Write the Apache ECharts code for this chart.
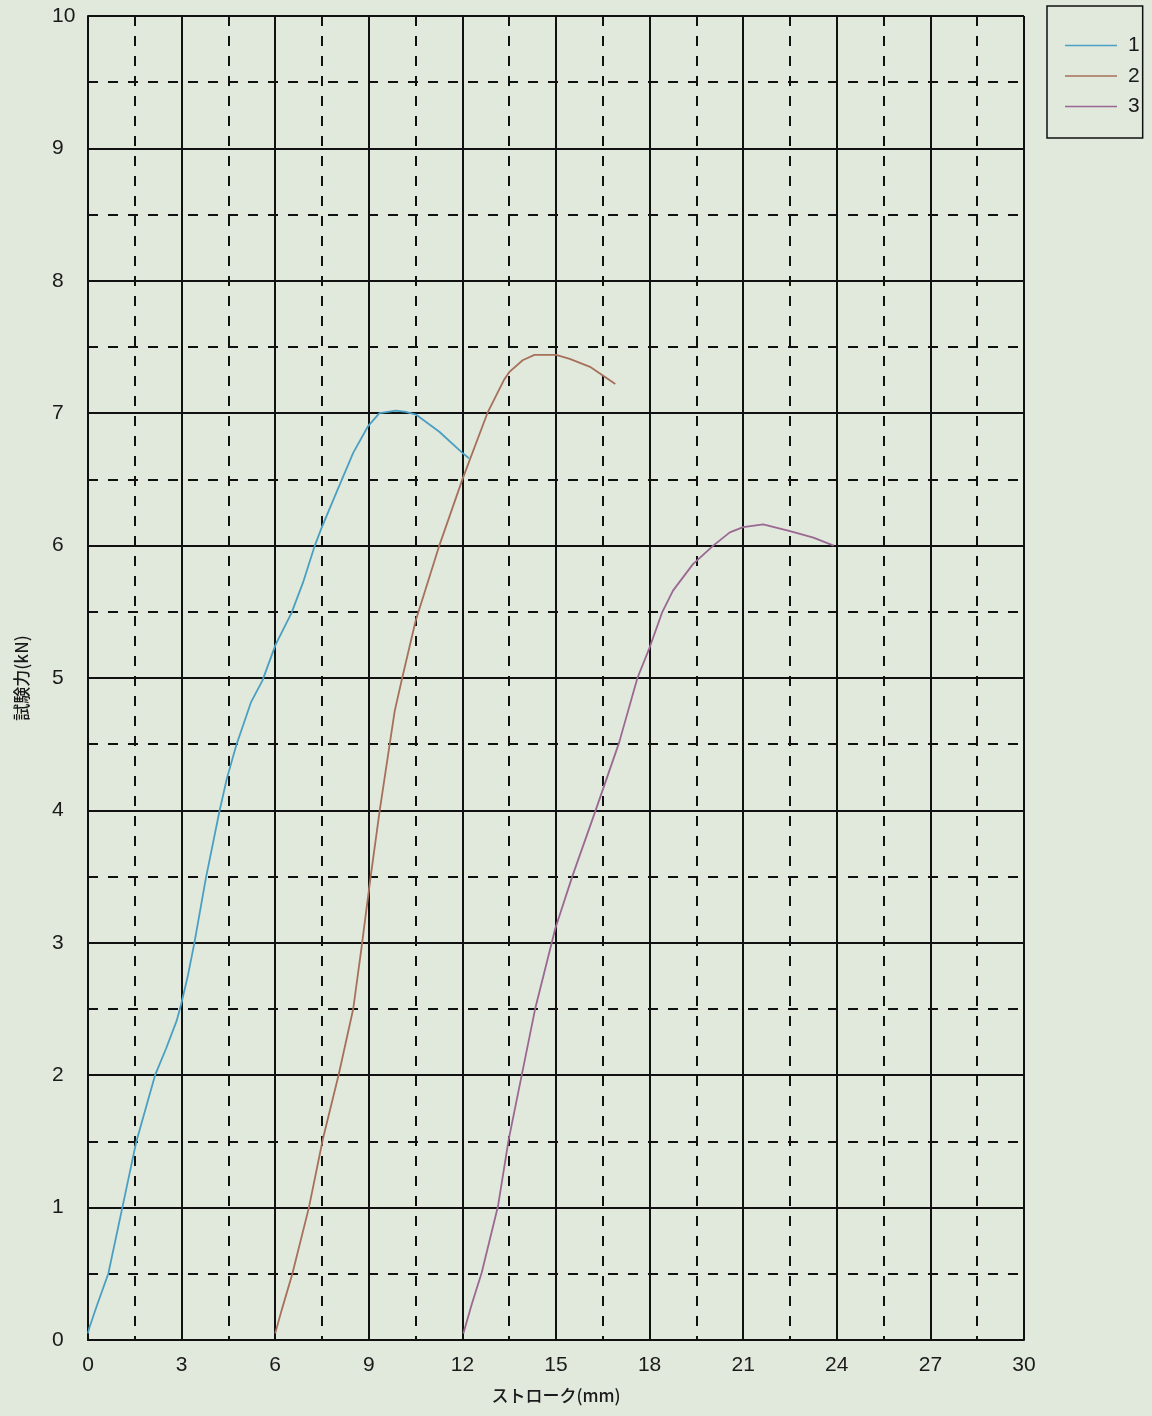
<!DOCTYPE html>
<html>
<head>
<meta charset="utf-8">
<script src="https://cdn.jsdelivr.net/npm/echarts@6/dist/echarts.min.js"></script>
<style>
html,body{margin:0;padding:0;background:#e1e8dc;}
#chart{width:1152px;height:1416px;}
</style>
</head>
<body>
<div id="chart"></div>
<script>
const seriesNames = ['1', '2', '3'];
const xTicks = [0, 3, 6, 9, 12, 15, 18, 21, 24, 27, 30];
const yTicks = [0, 1, 2, 3, 4, 5, 6, 7, 8, 9, 10];

const curve1 = [[0,0.05],[0.04,0.09],[0.3,0.27],[0.65,0.5],[1.1,1.0],[1.55,1.5],[2.15,2.0],[2.5,2.2],[2.84,2.41],[2.98,2.53],[3.2,2.75],[3.41,3.0],[3.78,3.49],[4.21,3.99],[4.45,4.24],[4.75,4.49],[5.23,4.82],[5.59,4.98],[6.01,5.25],[6.52,5.49],[6.89,5.72],[7.27,6.0],[7.48,6.13],[7.96,6.4],[8.5,6.7],[8.97,6.9],[9.34,7.0],[9.87,7.02],[10.19,7.01],[10.51,6.99],[11.26,6.86],[12.0,6.7],[12.21,6.66]];
const curve2 = [[6,0.05],[6.2,0.22],[6.55,0.5],[7.08,1.0],[7.53,1.52],[8.03,2.0],[8.5,2.5],[8.77,2.97],[8.95,3.3],[9.06,3.5],[9.35,4.0],[9.67,4.5],[9.83,4.75],[10.07,5.0],[10.5,5.43],[11.26,6.0],[12.0,6.5],[12.8,7.0],[13.33,7.25],[13.5,7.31],[13.93,7.4],[14.31,7.44],[15.0,7.44],[15.44,7.41],[16.09,7.35],[16.9,7.22]];
const curve3 = [[12.03,0.05],[12.3,0.27],[12.62,0.51],[13.14,1.01],[13.48,1.51],[13.91,2.01],[14.34,2.51],[14.98,3.11],[15.52,3.5],[16.27,4.0],[17.02,4.51],[17.61,5.0],[18.0,5.23],[18.41,5.5],[18.75,5.66],[19.39,5.86],[20.04,6.0],[20.57,6.1],[21.0,6.14],[21.64,6.16],[22.5,6.11],[23.25,6.06],[23.9,6.0]];

const colors = ['#4aa0c2', '#a6705a', '#9a6892'];
const curves = [curve1, curve2, curve3];

const chart = echarts.init(document.getElementById('chart'));
const font = 'Liberation Sans, Arial, sans-serif';
const jp = '"Noto Sans CJK JP", sans-serif';

chart.setOption({
  backgroundColor: '#e1e8dc',
  animation: false,
  grid: { left: 88, right: 128, top: 16, bottom: 76, containLabel: false },
  legend: {
    data: seriesNames,
    orient: 'vertical',
    left: 1047, top: 6,
    icon: 'rect',
    itemWidth: 52, itemHeight: 1.5,
    itemGap: 9.5,
    padding: [29, 3, 21, 18],
    borderColor: '#111', borderWidth: 1.5,
    textStyle: { fontFamily: font, fontSize: 21, color: '#1a1a1a', lineHeight: 20, padding: [0,0,0,6] }
  },
  xAxis: {
    type: 'value', min: 0, max: 30, interval: 3,
    name: 'ストローク(mm)', nameLocation: 'middle', nameGap: 47,
    nameTextStyle: { fontFamily: jp, fontSize: 17, color: '#1a1a1a', fontWeight: 500 },
    axisLine: { show: true, lineStyle: { color: '#111', width: 2 } },
    axisTick: { show: false },
    axisLabel: { fontFamily: font, fontSize: 21, color: '#1a1a1a', margin: 15,
      formatter: v => xTicks.includes(v) ? String(v) : '' },
    splitLine: { show: true, lineStyle: { color: '#111', width: 2 } },
    minorTick: { show: false, splitNumber: 2 },
    minorSplitLine: { show: true, lineStyle: { color: '#111', width: 2, type: [10, 10] } }
  },
  yAxis: {
    type: 'value', min: 0, max: 10, interval: 1,
    name: '試験力(kN)', nameLocation: 'middle', nameGap: 58, nameRotate: 90,
    nameTextStyle: { fontFamily: jp, fontSize: 17, color: '#1a1a1a', fontWeight: 500 },
    axisLine: { show: true, lineStyle: { color: '#111', width: 2 } },
    axisTick: { show: false },
    axisLabel: { fontFamily: font, fontSize: 21, color: '#1a1a1a', margin: 36, align: 'left',
      formatter: v => yTicks.includes(v) ? String(v) : '' },
    splitLine: { show: true, lineStyle: { color: '#111', width: 2 } },
    minorTick: { show: false, splitNumber: 2 },
    minorSplitLine: { show: true, lineStyle: { color: '#111', width: 2, type: [10, 10] } }
  },
  series: curves.map((d, i) => ({
    name: seriesNames[i], type: 'line', data: d, showSymbol: false, symbol: 'none',
    smooth: false, color: colors[i],
    lineStyle: { color: colors[i], width: 1.8 }, z: 5
  }))
});
</script>
</body>
</html>
